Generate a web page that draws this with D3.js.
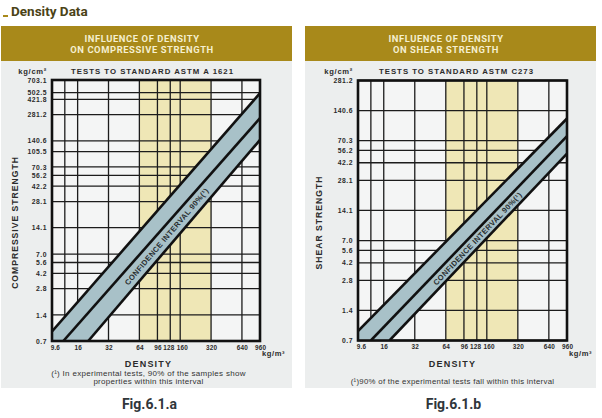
<!DOCTYPE html>
<html>
<head>
<meta charset="utf-8">
<script src="https://cdn.jsdelivr.net/npm/d3@7"></script>
<style>
  body { margin: 0; background: #fff; }
  svg text { font-family: "Liberation Sans", Arial, sans-serif; }
</style>
</head>
<body>
<div id="chart"></div>
<script>
// density axis (kg/m3), same for both charts
const densityTicks = [9.6, 16, 32, 64, 96, 128, 160, 320, 640, 960];
const densityGrid = [12, 16, 32, 64, 96, 128, 160, 320, 640];
const densityDomain = [9, 960];
const highlight = [64, 320];

// compressive strength (kg/cm2)
const compTicks = [0.7, 1.4, 2.8, 4.2, 5.6, 7.0, 14.1, 28.1, 42.2, 56.2, 70.3, 105.5, 140.6, 281.2, 421.8, 502.5, 703.1];
const compDomain = [0.7, 703.1];
const compUpper = [[9, 0.9], [960, 496]];
const compMiddle = [[11.6, 0.7], [960, 256]];
const compLower = [[20.3, 0.7], [960, 144]];

// shear strength (kg/cm2)
const shearTicks = [0.7, 1.4, 2.8, 4.2, 5.6, 7.0, 14.1, 28.1, 42.2, 56.2, 70.3, 140.6, 281.2];
const shearDomain = [0.7, 281.2];
const shearUpper = [[9, 0.87], [960, 117]];
const shearMiddle = [[12, 0.7], [960, 78]];
const shearLower = [[18.2, 0.7], [960, 52]];

const width = 602, height = 418;

const svg = d3.select("#chart")
  .append("svg")
  .attr("width", width)
  .attr("height", height);

// page title
svg.append("rect").attr("x", 3).attr("y", 15).attr("width", 5).attr("height", 2).attr("fill", "#a8891a");
svg.append("text")
  .attr("x", 11).attr("y", 16)
  .style("font-family", "Roboto, sans-serif")
  .style("font-weight", 700)
  .style("font-size", "13.5px")
  .attr("fill", "#4b4316")
  .text("Density Data");

const panels = [
  {
    x0: 1, x1: 292,
    plot: { l: 52, r: 260, t: 80, b: 341 },
    title: ["INFLUENCE OF DENSITY", "ON COMPRESSIVE STRENGTH"],
    tests: "TESTS TO STANDARD ASTM A 1621",
    yTitle: "COMPRESSIVE  STRENGTH",
    ticks: compTicks, domain: compDomain,
    upper: compUpper, middle: compMiddle, lower: compLower,
    textAt: 118,
    note: ["(¹) In experimental tests, 90% of the samples show", "properties within this interval"],
    noteSize: 8,
    fig: "Fig.6.1.a"
  },
  {
    x0: 305, x1: 596,
    plot: { l: 358, r: 567, t: 80.5, b: 340.5 },
    title: ["INFLUENCE OF DENSITY", "ON SHEAR STRENGTH"],
    tests: "TESTS TO STANDARD ASTM C273",
    yTitle: "SHEAR STRENGTH",
    ticks: shearTicks, domain: shearDomain,
    upper: shearUpper, middle: shearMiddle, lower: shearLower,
    textAt: 130,
    note: ["(¹)90% of the experimental tests fall within this interval"],
    noteSize: 7.8,
    fig: "Fig.6.1.b"
  }
];

// strength on a band line at a given density (straight line in log-log)
function along(line, d) {
  const [a, b] = line;
  const t = Math.log(d / a[0]) / Math.log(b[0] / a[0]);
  return a[1] * Math.pow(b[1] / a[1], t);
}

// the 128 and 160 labels sit close, push them apart a little
const labelNudge = { 128: -1.8, 160: 1.8 };

panels.forEach(function(p, i) {
  const cx = (p.x0 + p.x1) / 2;
  const g = svg.append("g");

  const x = d3.scaleLog().domain(densityDomain).range([p.plot.l, p.plot.r]);
  const y = d3.scaleLog().domain(p.domain).range([p.plot.b, p.plot.t]);

  // panel background and header
  g.append("rect")
    .attr("x", p.x0).attr("y", 61)
    .attr("width", p.x1 - p.x0).attr("height", 327)
    .attr("fill", "#eceeee");
  g.append("rect")
    .attr("x", p.x0).attr("y", 26)
    .attr("width", p.x1 - p.x0).attr("height", 35)
    .attr("fill", "#a8891a");
  g.selectAll(".head")
    .data(p.title)
    .enter()
    .append("text")
    .attr("x", cx - 4.5)
    .attr("y", (d, k) => 41.5 + k * 11)
    .attr("text-anchor", "middle")
    .style("font-family", "Roboto, sans-serif")
    .style("font-weight", 700)
    .style("font-size", "9.4px")
    .style("letter-spacing", "0.6px")
    .attr("fill", "#f5efcf")
    .text(d => d);

  g.append("text")
    .attr("x", cx + 6).attr("y", 73.5)
    .attr("text-anchor", "middle")
    .style("font-weight", 700)
    .style("font-size", "7.8px")
    .style("letter-spacing", "1px")
    .attr("fill", "#2b2b2b")
    .text(p.tests);

  g.append("text")
    .attr("x", p.plot.l - 5).attr("y", 73.5)
    .attr("text-anchor", "end")
    .style("font-weight", 700)
    .style("font-size", "7.6px")
    .style("letter-spacing", "0.7px")
    .attr("fill", "#2b2b2b")
    .text("kg/cm²");

  // plot area
  const w = p.plot.r - p.plot.l, h = p.plot.b - p.plot.t;
  g.append("rect")
    .attr("x", p.plot.l).attr("y", p.plot.t)
    .attr("width", w).attr("height", h)
    .attr("fill", "#f4f5f5");
  g.append("rect")
    .attr("x", x(highlight[0])).attr("y", p.plot.t)
    .attr("width", x(highlight[1]) - x(highlight[0])).attr("height", h)
    .attr("fill", "#efe7b6");

  // grid
  g.selectAll(".vgrid")
    .data(densityGrid)
    .enter()
    .append("line")
    .attr("x1", d => x(d)).attr("x2", d => x(d))
    .attr("y1", p.plot.t).attr("y2", p.plot.b)
    .attr("stroke", "#1c1c1c").attr("stroke-width", 1.3);
  g.selectAll(".hgrid")
    .data(p.ticks)
    .enter()
    .append("line")
    .attr("x1", p.plot.l).attr("x2", p.plot.r)
    .attr("y1", d => y(d)).attr("y2", d => y(d))
    .attr("stroke", "#1c1c1c").attr("stroke-width", 1.3);

  // confidence band
  const clipId = "clip" + i;
  g.append("clipPath").attr("id", clipId)
    .append("rect")
    .attr("x", p.plot.l).attr("y", p.plot.t)
    .attr("width", w).attr("height", h);
  const band = g.append("g").attr("clip-path", "url(#" + clipId + ")");
  const corner = [densityDomain[0], p.domain[0]];
  const poly = [p.upper[0], p.upper[1], p.lower[1], p.lower[0], corner];
  band.append("path")
    .attr("d", d3.line().x(d => x(d[0])).y(d => y(d[1]))(poly) + "Z")
    .attr("fill", "#a8c1c8");
  band.selectAll(".edge")
    .data([p.upper, p.middle, p.lower])
    .enter()
    .append("path")
    .attr("d", d3.line().x(d => x(d[0])).y(d => y(d[1])))
    .attr("fill", "none")
    .attr("stroke", "#111")
    .attr("stroke-width", 2.6);

  // frame
  g.append("rect")
    .attr("x", p.plot.l).attr("y", p.plot.t)
    .attr("width", w).attr("height", h)
    .attr("fill", "none")
    .attr("stroke", "#111").attr("stroke-width", 2.6);

  // band label, between middle and lower edge
  const sMid = Math.sqrt(along(p.middle, p.textAt) * along(p.lower, p.textAt));
  const ang = Math.atan2(y(p.lower[1][1]) - y(p.lower[0][1]), x(p.lower[1][0]) - x(p.lower[0][0])) * 180 / Math.PI;
  g.append("text")
    .attr("transform", "translate(" + x(p.textAt) + "," + y(sMid) + ") rotate(" + ang + ")")
    .attr("text-anchor", "middle")
    .attr("dy", "0.35em")
    .style("font-weight", 700)
    .style("font-size", "7.6px")
    .style("letter-spacing", "0.4px")
    .attr("fill", "#2a2f31")
    .text("CONFIDENCE INTERVAL 90%(¹)");

  // axes
  const xAxis = d3.axisBottom(x)
    .tickValues(densityTicks)
    .tickSize(0)
    .tickPadding(4)
    .tickFormat(d => String(d));
  const yAxis = d3.axisLeft(y)
    .tickValues(p.ticks)
    .tickSize(0)
    .tickPadding(5)
    .tickFormat(d => d.toFixed(1));

  const xg = g.append("g")
    .attr("transform", "translate(0," + p.plot.b + ")")
    .call(xAxis);
  const yg = g.append("g")
    .attr("transform", "translate(" + p.plot.l + ",0)")
    .call(yAxis);
  [xg, yg].forEach(function(a) {
    a.select(".domain").remove();
    a.selectAll("text")
      .style("font-family", "'Liberation Sans', Arial, sans-serif")
      .style("font-weight", 700)
      .style("font-size", "6.8px")
      .style("letter-spacing", "0.5px")
      .attr("fill", "#2b2b2b");
  });
  xg.selectAll("text")
    .style("font-size", "6.4px")
    .style("letter-spacing", "0.2px")
    .attr("dx", d => labelNudge[d] || 0);

  g.append("text")
    .attr("x", p.plot.r + 2).attr("y", p.plot.b + 15)
    .style("font-weight", 700)
    .style("font-size", "7.6px")
    .style("letter-spacing", "0.6px")
    .attr("fill", "#2b2b2b")
    .text("kg/m³");

  g.append("text")
    .attr("x", cx + 2).attr("y", 366.5)
    .attr("text-anchor", "middle")
    .style("font-weight", 700)
    .style("font-size", "9px")
    .style("letter-spacing", "1.2px")
    .attr("fill", "#2b2b2b")
    .text("DENSITY");

  g.append("text")
    .attr("transform", "translate(" + (p.x0 + 16.5) + "," + ((p.plot.t + p.plot.b) / 2 + 12) + ") rotate(-90)")
    .attr("text-anchor", "middle")
    .style("font-weight", 700)
    .style("font-size", "8.6px")
    .style("letter-spacing", "1px")
    .attr("fill", "#2b2b2b")
    .text(p.yTitle);

  g.selectAll(".note")
    .data(p.note)
    .enter()
    .append("text")
    .attr("x", cx + 2)
    .attr("y", (d, k) => (p.note.length > 1 ? 375.5 : 384) + k * 8.7)
    .attr("text-anchor", "middle")
    .style("font-size", p.noteSize + "px")
    .style("letter-spacing", "0.3px")
    .attr("fill", "#333")
    .text(d => d);

  g.append("text")
    .attr("x", cx + 3).attr("y", 409)
    .attr("text-anchor", "middle")
    .style("font-family", "Roboto, sans-serif")
    .style("font-weight", 700)
    .style("font-size", "14px")
    .attr("fill", "#30363b")
    .text(p.fig);
});
</script>
</body>
</html>
